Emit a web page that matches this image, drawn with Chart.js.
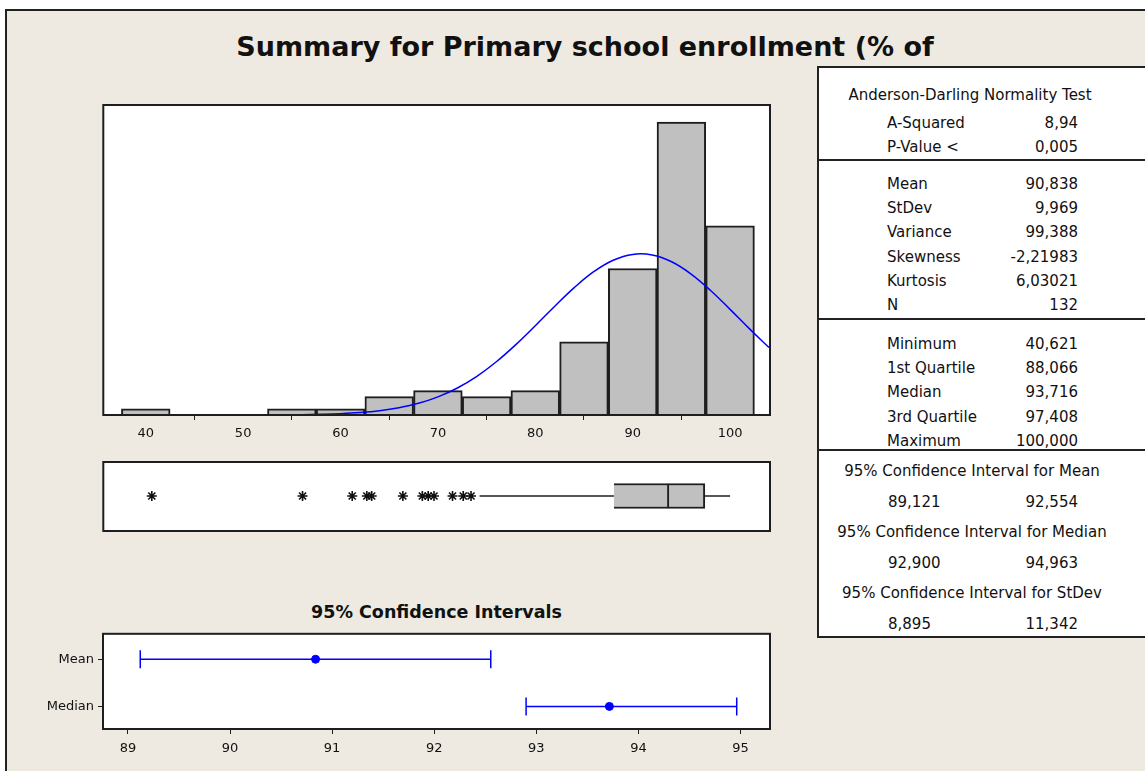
<!DOCTYPE html>
<html>
<head>
<meta charset="utf-8">
<script src="https://cdn.jsdelivr.net/npm/chart.js@4/dist/chart.umd.min.js"></script>
<style>
  body { margin: 0; background: #fff; font-family: "DejaVu Sans", sans-serif; color: #111; }
  #page { position: relative; width: 1145px; height: 771px; overflow: hidden; }
  #frame { position: absolute; left: 5px; top: 9px; width: 1160px; height: 800px; background: #EEEAE1;
           border-left: 2px solid #222; border-top: 2px solid #222; }
  .abs { position: absolute; }
  #title { left: 0; width: 1170px; top: 30px; text-align: center; font-weight: bold; font-size: 27px; line-height: 34px; }
  #ciTitle { left: 103px; width: 667px; top: 601px; text-align: center; font-weight: bold; font-size: 17.5px; line-height: 22px; }
  #stats { left: 817px; top: 66px; width: 340px; height: 568px; background: #fff; border: 2px solid #222; }
  .row { position: absolute; font-size: 15px; line-height: 18px; white-space: nowrap; }
  .rule { position: absolute; left: 0; width: 340px; height: 0; border-top: 2px solid #222; }
  canvas { position: absolute; }
</style>
</head>
<body>
<div id="page">
  <div id="frame"></div>
  <div id="title" class="abs">Summary for Primary school enrollment (% of</div>
  <div id="ciTitle" class="abs">95% Confidence Intervals</div>
  <div id="stats" class="abs"></div>
  <canvas id="histChart" style="left:100px; top:100px;" width="674" height="345"></canvas>
  <canvas id="boxChart" style="left:100px; top:457px;" width="674" height="78"></canvas>
  <canvas id="ciChart" style="left:30px; top:622px;" width="744" height="140"></canvas>
</div>
<script>
// histogram bins (centre of each 5-wide bin) and counts
const binCentres = [40, 45, 50, 55, 60, 65, 70, 75, 80, 85, 90, 95, 100];
const binCounts = [1, 0, 0, 1, 1, 3, 4, 3, 4, 12, 24, 48, 31];
const histTicks = [40, 50, 60, 70, 80, 90, 100];

// fitted normal curve
const curveX = [54, 56, 58, 60, 62, 64, 66, 68, 70, 72, 74, 76, 78, 80, 82, 84, 86, 88, 90, 92, 94, 96, 98, 100, 102, 104];
const curveY = [0.03, 0.06, 0.12, 0.22, 0.4, 0.7, 1.19, 1.91, 2.97, 4.43, 6.34, 8.72, 11.53, 14.63, 17.83, 20.87, 23.48, 25.36, 26.32, 26.23, 25.12, 23.1, 20.4, 17.31, 14.11, 11.05];

// boxplot
const boxLowWhisker = 74.28;
const boxQ1 = 88.066;
const boxMedian = 93.716;
const boxQ3 = 97.408;
const boxHighWhisker = 100;
const outliers = [40.621, 56.1, 61.2, 62.7, 63.2, 66.4, 68.4, 69.0, 69.6, 71.5, 72.6, 73.4];

// confidence intervals
const ciLabels = ['Mean', 'Median'];
const ciRows = [2, 1];
const ciLow = [89.121, 92.9];
const ciCentre = [90.838, 93.716];
const ciHigh = [92.554, 94.963];
const ciTicks = [89, 90, 91, 92, 93, 94, 95];

// summary panel
const testRows = [['A-Squared', '8,94'], ['P-Value <', '0,005']];
const momentRows = [['Mean', '90,838'], ['StDev', '9,969'], ['Variance', '99,388'], ['Skewness', '-2,21983'], ['Kurtosis', '6,03021'], ['N', '132']];
const quantRows = [['Minimum', '40,621'], ['1st Quartile', '88,066'], ['Median', '93,716'], ['3rd Quartile', '97,408'], ['Maximum', '100,000']];
const ciPanel = [
  ['95% Confidence Interval for Mean', '89,121', '92,554'],
  ['95% Confidence Interval for Median', '92,900', '94,963'],
  ['95% Confidence Interval for StDev', '8,895', '11,342']
];

const INK = '#1e1e1e';
const BLUE = '#0000ff';
const tickFont = { family: 'DejaVu Sans', size: 13 };

// white plot area with a dark frame
const plotFrame = {
  id: 'plotFrame',
  beforeDraw(chart) {
    const a = chart.chartArea, ctx = chart.ctx;
    ctx.save();
    ctx.fillStyle = '#EEEAE1';
    ctx.fillRect(0, 0, chart.width, chart.height);
    ctx.fillStyle = '#fff';
    ctx.fillRect(a.left, a.top, a.right - a.left, a.bottom - a.top);
    ctx.restore();
  },
  afterDraw(chart) {
    const a = chart.chartArea, ctx = chart.ctx;
    ctx.save();
    ctx.strokeStyle = INK;
    ctx.lineWidth = 2;
    ctx.strokeRect(a.left, a.top, a.right - a.left, a.bottom - a.top);
    ctx.restore();
  }
};

Chart.defaults.animation = false;
Chart.defaults.responsive = false;
Chart.defaults.plugins.legend.display = false;
Chart.defaults.plugins.tooltip.enabled = false;

const xMin = 35.64, xMax = 104.1;

new Chart(document.getElementById('histChart'), {
  type: 'bar',
  data: {
    datasets: [
      {
        type: 'line',
        data: curveX.map((x, i) => ({ x: x, y: curveY[i] })),
        borderColor: BLUE,
        borderWidth: 1.5,
        pointRadius: 0,
        tension: 0.4,
        order: 0
      },
      {
        type: 'bar',
        data: binCentres.map((x, i) => ({ x: x, y: binCounts[i] })),
        backgroundColor: '#C0C0C0',
        borderColor: INK,
        borderWidth: 2,
        barPercentage: 1,
        categoryPercentage: 1,
        order: 1
      }
    ]
  },
  options: {
    layout: { autoPadding: false, padding: { left: 3.3, right: 4, top: 5, bottom: 0 } },
    scales: {
      x: {
        type: 'linear', min: xMin, max: xMax, offset: false,
        afterBuildTicks: s => { s.ticks = histTicks.map(v => ({ value: v })); },
        afterFit: s => { s.height = 30; },
        border: { display: false },
        grid: { drawOnChartArea: false, tickLength: 5, color: INK },
        ticks: { color: '#111', font: tickFont, padding: 6 }
      },
      y: { type: 'linear', min: 0, max: 50.8, display: false }
    }
  },
  plugins: [plotFrame]
});

new Chart(document.getElementById('boxChart'), {
  type: 'bar',
  data: {
    datasets: [
      {
        type: 'line',
        data: [{ x: boxLowWhisker, y: 0 }, { x: boxQ1, y: 0 }],
        borderColor: INK, borderWidth: 1.5, pointRadius: 0
      },
      {
        type: 'line',
        data: [{ x: boxQ3, y: 0 }, { x: boxHighWhisker, y: 0 }],
        borderColor: INK, borderWidth: 1.5, pointRadius: 0
      },
      {
        type: 'bar', indexAxis: 'y', grouped: false,
        data: [{ x: [boxQ1, boxMedian], y: 0 }],
        backgroundColor: '#C0C0C0', borderColor: INK, borderWidth: 2, barThickness: 25
      },
      {
        type: 'bar', indexAxis: 'y', grouped: false,
        data: [{ x: [boxMedian, boxQ3], y: 0 }],
        backgroundColor: '#C0C0C0', borderColor: INK, borderWidth: 2, barThickness: 25
      },
      {
        type: 'scatter',
        data: outliers.map(v => ({ x: v, y: 0 })),
        pointStyle: 'star', pointRadius: 5, borderColor: '#111', pointBorderWidth: 1.6
      }
    ]
  },
  options: {
    layout: { autoPadding: false, padding: { left: 3.3, right: 4, top: 5, bottom: 4 } },
    scales: {
      x: { type: 'linear', min: xMin, max: xMax, offset: false, display: false },
      y: { type: 'linear', min: -1.03, max: 1, offset: false, display: false }
    }
  },
  plugins: [plotFrame]
});

const ciSets = [];
ciLabels.forEach((name, i) => {
  ciSets.push({
    type: 'line',
    data: [{ x: ciLow[i], y: ciRows[i] }, { x: ciHigh[i], y: ciRows[i] }],
    borderColor: BLUE, borderWidth: 1.5,
    pointStyle: 'line', pointRotation: 90, pointRadius: 9,
    pointBorderColor: BLUE, pointBorderWidth: 1.5
  });
  ciSets.push({
    type: 'scatter',
    data: [{ x: ciCentre[i], y: ciRows[i] }],
    pointStyle: 'circle', pointRadius: 4,
    backgroundColor: BLUE, borderColor: BLUE
  });
});

new Chart(document.getElementById('ciChart'), {
  type: 'scatter',
  data: { datasets: ciSets },
  options: {
    layout: { autoPadding: false, padding: { left: 0, right: 4, top: 6, bottom: 0 } },
    scales: {
      x: {
        type: 'linear', min: 88.756, max: 95.289, offset: false,
        afterBuildTicks: s => { s.ticks = ciTicks.map(v => ({ value: v })); },
        afterFit: s => { s.height = 33; },
        border: { display: false },
        grid: { drawOnChartArea: false, tickLength: 5, color: INK },
        ticks: { color: '#111', font: tickFont, padding: 7 }
      },
      y: {
        type: 'linear', min: 0.52, max: 2.54, offset: false,
        afterBuildTicks: s => { s.ticks = ciRows.map(v => ({ value: v })); },
        afterFit: s => { s.width = 73; },
        border: { display: false },
        grid: { drawOnChartArea: false, tickLength: 5, color: INK },
        ticks: { color: '#111', font: tickFont, padding: 4, callback: v => ciLabels[ciRows.indexOf(v)] }
      }
    }
  },
  plugins: [plotFrame]
});

// summary panel text
const panel = document.getElementById('stats');
const panelTop = 66;
function addText(text, y, opts) {
  const d = document.createElement('div');
  d.className = 'row';
  d.textContent = text;
  d.style.top = (y - panelTop - 2 - 9) + 'px';
  if (opts.left !== undefined) d.style.left = (opts.left - 819) + 'px';
  if (opts.right !== undefined) { d.style.left = (opts.right - 819 - 200) + 'px'; d.style.width = '200px'; d.style.textAlign = 'right'; }
  if (opts.centre !== undefined) { d.style.left = (opts.centre - 819 - 160) + 'px'; d.style.width = '320px'; d.style.textAlign = 'center'; }
  panel.appendChild(d);
}
function addRule(y) {
  const r = document.createElement('div');
  r.className = 'rule';
  r.style.top = (y - panelTop - 2 - 1) + 'px';
  panel.appendChild(r);
}
addText('Anderson-Darling Normality Test', 95, { centre: 970 });
const labelX = 887, valueX = 1078;
[[testRows, 123], [momentRows, 184], [quantRows, 344]].forEach(([rows, y0]) => {
  rows.forEach((r, i) => {
    addText(r[0], y0 + i * 24.2, { left: labelX });
    addText(r[1], y0 + i * 24.2, { right: valueX });
  });
});
addRule(160); addRule(319); addRule(450);
ciPanel.forEach((r, i) => {
  const y = 471 + i * 61;
  addText(r[0], y, { centre: 972 });
  addText(r[1], y + 31, { left: 888 });
  addText(r[2], y + 31, { right: valueX });
});
</script>
</body>
</html>
